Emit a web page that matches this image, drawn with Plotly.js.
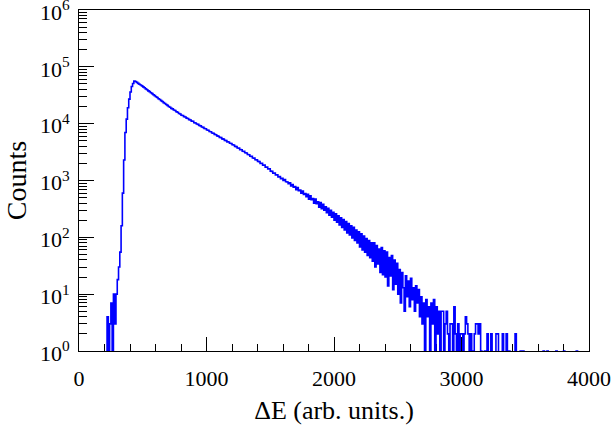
<!DOCTYPE html>
<html>
<head>
<meta charset="utf-8">
<script src="https://cdn.plot.ly/plotly-3.0.1.min.js"></script>
<style>
  html, body { margin: 0; padding: 0; background: #ffffff; }
  #chart { width: 613px; height: 425px; }
</style>
</head>
<body>
<div id="chart"></div>
<script>
// ---- Histogram data (ΔE spectrum), bins of fixed width starting at binLow ----
const binLow = 200;     // left edge of first bin (arb. units)
const binWidth = 10;    // bin width (arb. units)

// Rising edge: bins 200 .. 430
const countsRise = [
  0, 0, 4, 0, 3, 7, 0, 10, 3, 10,
  18, 30, 55, 160, 600, 2300, 7000, 12000, 19000, 27000,
  36000, 45000, 51000, 56000
];

// Smooth decay: bins 440 .. 1590
const countsBody = [
  55200, 53300, 51200, 49500, 47800, 46200, 44400, 42900, 41000, 39500,
  37800, 36600, 35000, 33800, 32300, 31200, 29800, 28900, 27500, 26600,
  25400, 24600, 23500, 22700, 21700, 21000, 20000, 19500, 18600, 18200,
  17400, 17000, 16200, 15900, 15100, 14800, 14100, 13900, 13300, 13100,
  12500, 12300, 11800, 11600, 11100, 11000, 10400, 10300, 9850, 9700,
  9280, 9150, 8740, 8620, 8230, 8120, 7760, 7650, 7300, 7200,
  6870, 6790, 6470, 6400, 6100, 6020, 5740, 5680, 5400, 5350,
  5090, 5040, 4790, 4750, 4510, 4480, 4250, 4210, 3990, 3950,
  3730, 3710, 3500, 3470, 3280, 3250, 3070, 3040, 2860, 2840,
  2670, 2660, 2490, 2480, 2320, 2310, 2170, 2150, 2000, 2010,
  1860, 1870, 1720, 1730, 1600, 1610, 1460, 1450, 1350, 1350,
  1250, 1260, 1160, 1170, 1080, 1090
];

// Noisy tail: bins 1600 .. 2690
const countsTail = [
  1000, 1040, 950, 940, 880, 910, 800, 850, 760, 780,
  690, 750, 660, 680, 600, 650, 570, 590, 520, 570,
  470, 540, 460, 480, 400, 470, 390, 420, 340, 410,
  320, 380, 300, 345, 270, 325, 245, 300, 225, 275,
  200, 260, 185, 240, 165, 220, 150, 205, 135, 190,
  120, 175, 110, 160, 98, 150, 88, 135, 80, 125,
  68, 115, 60, 105, 55, 95, 48, 88, 44, 80,
  38, 80, 30, 72, 34, 62, 24, 66, 22, 58,
  20, 55, 14, 44, 21, 48, 12, 40, 15, 35,
  10, 27, 7, 24, 13, 5, 21, 9, 17, 6,
  19, 8, 13, 5, 14, 7, 12, 4, 9, 3
];

// Sparse end: bins 2700 .. 3990
const countsEnd = [
  7, 0, 8, 4, 6, 0, 7, 3, 8, 0,
  6, 2, 5, 0, 5, 5, 0, 3, 5, 2,
  0, 3, 3, 0, 6, 2, 0, 3, 0, 2,
  2, 0, 2, 4, 3, 2, 0, 2, 1, 0,
  2, 3, 3, 2, 3, 1, 0, 0, 1, 0,
  2, 0, 0, 2, 0, 0, 0, 2, 2, 0,
  0, 0, 2, 0, 0, 2, 0, 1, 0, 0,
  0, 0, 2, 0, 0, 0, 1, 0, 1, 0,
  0, 0, 0, 0, 0, 0, 0, 0, 0, 0,
  0, 0, 0, 0, 1, 0, 0, 1, 0, 0,
  0, 0, 0, 0, 1, 0, 0, 0, 0, 0,
  1, 0, 0, 0, 0, 0, 0, 0, 0, 0,
  1, 0, 0, 0, 0, 0, 0, 0, 0, 0,
  0, 0, 0, 0, 0, 0, 0, 0, 0, 0
];

const xTickVals = [0, 1000, 2000, 3000, 4000];
const xTickText = ['0', '1000', '2000', '3000', '4000'];
const yTickVals = [1, 10, 100, 1000, 10000, 100000, 1000000];
const yTickText = ['10<sup>0</sup>', '10<sup>1</sup>', '10<sup>2</sup>', '10<sup>3</sup>',
                   '10<sup>4</sup>', '10<sup>5</sup>', '10<sup>6</sup>'];

// ---- Build step trace ----
const counts = countsRise.concat(countsBody, countsTail, countsEnd);
const xs = [], ys = [];
for (let i = 0; i < counts.length; i++) {
  xs.push(binLow + i * binWidth);
  ys.push(counts[i] > 0 ? counts[i] : 0.05); // empty bins drop below the log axis (ROOT style)
}
xs.push(binLow + counts.length * binWidth);
ys.push(ys[ys.length - 1]);

// minor tick positions
const xMinor = [];
for (let v = 200; v < 4000; v += 200) if (v % 1000 !== 0) xMinor.push(v);
const yMinor = [];
for (let d = 1; d < 1e6; d *= 10) for (let k = 2; k <= 9; k++) yMinor.push(k * d);

const layout = {
  width: 613, height: 425,
  margin: { l: 79, r: 24, t: 10, b: 74 },
  paper_bgcolor: '#ffffff', plot_bgcolor: '#ffffff',
  showlegend: false,
  font: { family: 'Liberation Serif', size: 22, color: '#000000' },
  xaxis: {
    range: [0, 4000],
    showline: true, mirror: true, linecolor: '#000000', linewidth: 1,
    showgrid: false, zeroline: false,
    ticks: 'inside', ticklen: 14, tickwidth: 1, tickcolor: '#000000',
    tickmode: 'array', tickvals: xTickVals, ticktext: xTickText,
    tickfont: { size: 22, color: '#000000' },
    ticklabelstandoff: 8,
    ticklabeloverflow: 'allow',
    minor: { ticks: 'inside', ticklen: 7, tickwidth: 1, tickcolor: '#000000', tickmode: 'array', tickvals: xMinor, showgrid: false },
    layer: 'below traces',
    title: { text: 'ΔE (arb. units.)', font: { size: 26, color: '#000000' }, standoff: 12 }
  },
  yaxis: {
    type: 'log', range: [0, 6],
    showline: true, mirror: true, linecolor: '#000000', linewidth: 1,
    showgrid: false, zeroline: false,
    ticks: 'inside', ticklen: 15, tickwidth: 1, tickcolor: '#000000',
    tickmode: 'array', tickvals: yTickVals, ticktext: yTickText,
    tickfont: { size: 22, color: '#000000' },
    ticklabelstandoff: 4,
    ticklabelshift: 2,
    ticklabeloverflow: 'allow',
    minor: { ticks: 'inside', ticklen: 8, tickwidth: 1, tickcolor: '#000000', tickmode: 'array', tickvals: yMinor, showgrid: false },
    layer: 'below traces',
    title: { text: 'Counts', font: { size: 28, color: '#000000' }, standoff: 5 }
  }
};

Plotly.newPlot('chart', [{
  type: 'scatter', mode: 'lines',
  x: xs, y: ys,
  line: { color: '#0000ff', width: 1.6, shape: 'hv' }
}], layout, { displayModeBar: false, staticPlot: true });
</script>
</body>
</html>
